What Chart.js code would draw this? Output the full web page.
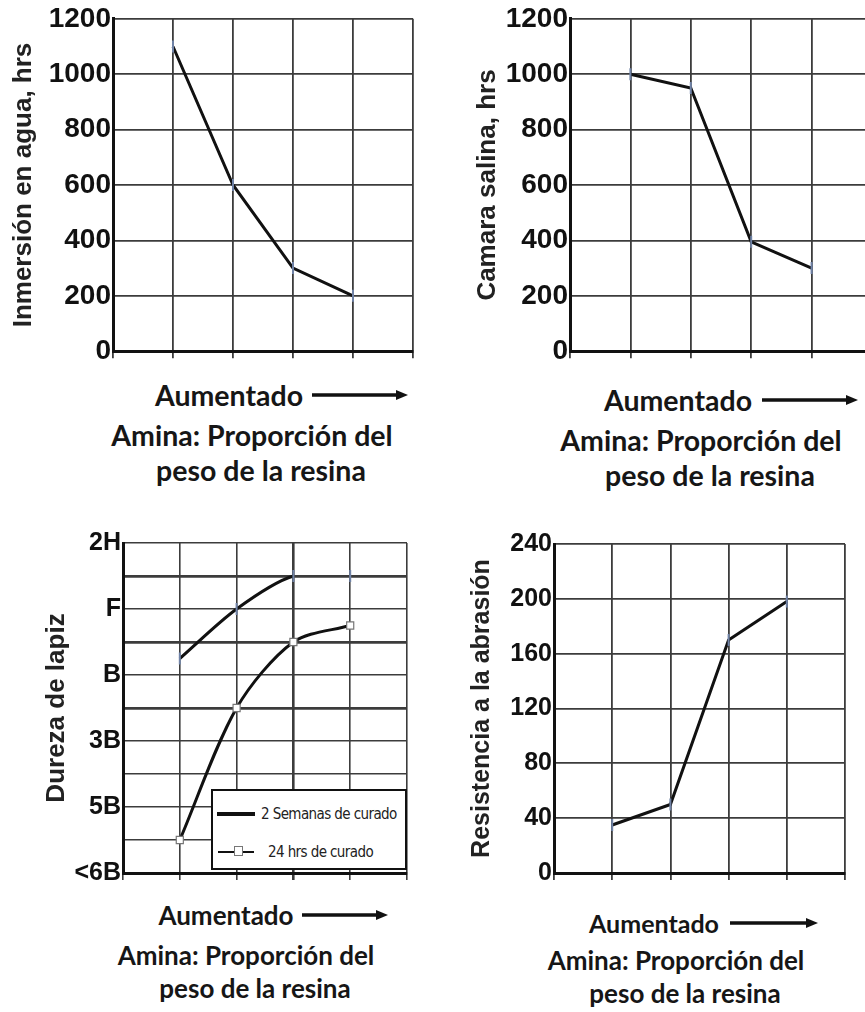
<!DOCTYPE html>
<html>
<head>
<meta charset="utf-8" />
<title>Amina: propiedades vs proporción</title>
<script src="https://cdn.jsdelivr.net/npm/chart.js@4.4.1/dist/chart.umd.min.js"></script>
<style>
	body { margin: 0; padding: 0; width: 865px; height: 1012px; overflow: hidden; background: #fff; position: relative; }
	canvas { position: absolute; }
	.cap { position: absolute; transform: translate(-50%, -50%); white-space: nowrap;
		font-family: 'Lato', 'Open Sans', sans-serif; font-weight: bold; color: #161616; line-height: 1; }
	.arrow { position: absolute; }
	#legend3 { position: absolute; left: 211px; top: 789px; width: 196px; height: 81px; box-sizing: border-box;
		border: 2px solid #111; background: #fff; font-family: 'DejaVu Sans Condensed', 'DejaVu Sans', sans-serif; font-size: 15px; color: #222; }
	#legend3 .ln { position: absolute; background: #111; }
	#legend3 .tx { position: absolute; transform: translateY(-50%); white-space: nowrap; letter-spacing: -0.6px; }
	#legend3 .mk { position: absolute; width: 7px; height: 8px; border: 1px solid #777; background: #fff; }
</style>
</head>
<body>

<canvas id="c1" width="430" height="370" style="left:0;top:0"></canvas>
<canvas id="c2" width="450" height="370" style="left:430px;top:0"></canvas>
<canvas id="c3" width="430" height="370" style="left:0;top:520px"></canvas>
<canvas id="c4" width="435" height="370" style="left:430px;top:520px"></canvas>

<div id="legend3">
	<div class="ln" style="left:4px;top:21px;width:38px;height:4px"></div>
	<div class="tx" id="lg1" style="left:48px;top:23px"></div>
	<div class="ln" style="left:5px;top:60px;width:36px;height:1.5px"></div>
	<div class="mk" style="left:21px;top:55px"></div>
	<div class="tx" id="lg2" style="left:55px;top:61px"></div>
</div>

<div id="caps"></div>

<script>
// amine proportion steps (unlabelled, increasing)
var aminaPasos = [1, 2, 3, 4];

var inmersionAgua = [1100, 600, 300, 200];
var camaraSalina = [1000, 950, 395, 300];
var durezaDosSemanas = [6.5, 8, 9, 9];
var durezaVeinticuatroHrs = [1, 5, 7, 7.5];
var resistenciaAbrasion = [35, 50, 170, 198];

var gradosLapiz = ['<6B', '6B', '5B', '4B', '3B', '2B', 'B', 'HB', 'F', 'H', '2H'];
var seriesDureza = ['2 Semanas de curado', '24 hrs de curado'];

var titulosY = ['Inmersión en agua, hrs', 'Camara salina, hrs', 'Dureza de lapiz', 'Resistencia a la abrasión'];
var leyendaX = ['Aumentado', 'Amina: Proporción del', 'peso de la resina'];

var GRID = '#3c3c3c';
var INK = '#111';
var MARK = '#6f82a6';

function pts(vals) {
	return vals.map(function (v, i) { return { x: aminaPasos[i], y: v }; });
}

function lineSet(vals, extra) {
	var d = {
		data: pts(vals),
		borderColor: INK,
		borderWidth: 3,
		tension: 0,
		pointStyle: 'line',
		rotation: 90,
		pointRadius: 6,
		pointBorderWidth: 2,
		pointBorderColor: MARK,
		fill: false
	};
	for (var k in extra) d[k] = extra[k];
	return d;
}

function makeChart(id, o) {
	return new Chart(document.getElementById(id), {
		type: 'line',
		data: { datasets: o.datasets },
		options: {
			responsive: false,
			animation: false,
			layout: { padding: { top: o.padTop, right: o.padRight, left: 0, bottom: 0 } },
			plugins: { legend: { display: false }, tooltip: { enabled: false } },
			scales: {
				x: {
					type: 'linear', min: 0, max: 5,
					ticks: { stepSize: 1, display: false },
					grid: { color: GRID, lineWidth: o.xGridWidth || 1.8, tickLength: 7 },
					border: { color: INK, width: 3 },
					afterFit: function (s) { s.height = o.xHeight; }
				},
				y: {
					min: o.min, max: o.max,
					ticks: {
						stepSize: o.step, color: INK, padding: 2,
						font: { family: 'Liberation Sans', weight: 'bold', size: o.tickSize },
						callback: o.tickCb || function (v) { return v; }
					},
					grid: { color: GRID, lineWidth: o.yGridWidth || 1.8, drawTicks: false },
					border: { color: INK, width: 3 },
					title: {
						display: true, text: o.title, color: '#222',
						font: { family: 'Liberation Sans', weight: 'bold', size: o.titleSize },
						padding: { top: o.titlePad, bottom: 0 }
					},
					afterFit: function (s) { s.width = o.yWidth; }
				}
			}
		}
	});
}

makeChart('c1', {
	datasets: [lineSet(inmersionAgua)],
	min: 0, max: 1200, step: 200, tickSize: 28,
	title: titulosY[0], titleSize: 26, titlePad: 8,
	yWidth: 113, xHeight: 18, padTop: 15, padRight: 17
});

makeChart('c2', {
	datasets: [lineSet(camaraSalina)],
	min: 0, max: 1200, step: 200, tickSize: 28,
	title: titulosY[1], titleSize: 26, titlePad: 42,
	yWidth: 140, xHeight: 18, padTop: 15, padRight: 8
});

makeChart('c3', {
	datasets: [
		lineSet(durezaDosSemanas, {
			label: seriesDureza[0], tension: 0.3,
			segment: { borderColor: function (ctx) { return ctx.p1DataIndex === 3 ? 'rgba(0,0,0,0)' : INK; } }
		}),
		lineSet(durezaVeinticuatroHrs, {
			label: seriesDureza[1], tension: 0.3,
			pointStyle: 'rect', rotation: 0, pointRadius: 5, pointBorderWidth: 1.2,
			pointBorderColor: '#777', pointBackgroundColor: '#fff'
		})
	],
	min: 0, max: 10, step: 1, tickSize: 25,
	tickCb: function (v) { return v % 2 === 0 ? gradosLapiz[v] : ''; },
	yGridWidth: function (c) { return [5, 7, 9].indexOf(c.tick && c.tick.value) > -1 ? 2.8 : 1.6; },
	xGridWidth: function (c) { return c.tick && c.tick.value === 3 ? 2.6 : 1.6; },
	title: titulosY[2], titleSize: 26, titlePad: 41,
	yWidth: 123, xHeight: 14, padTop: 23, padRight: 23
});

makeChart('c4', {
	datasets: [lineSet(resistenciaAbrasion)],
	min: 0, max: 240, step: 40, tickSize: 25,
	title: titulosY[3], titleSize: 25, titlePad: 37,
	yWidth: 124, xHeight: 13, padTop: 24, padRight: 20
});

document.getElementById('lg1').textContent = seriesDureza[0];
document.getElementById('lg2').textContent = seriesDureza[1];

// captions under each chart: [x centre, y centre, font size] per line, arrow from/to
var capLayout = [
	{ lines: [[229, 395, 28.5], [252, 435, 28.5], [261, 470, 28.5]], arrow: [312, 408, 395] },
	{ lines: [[678, 400, 28.5], [701, 440, 28.5], [710, 475, 28.5]], arrow: [762, 858, 400] },
	{ lines: [[226, 915, 26], [246, 955, 26], [255, 988, 26]], arrow: [302, 388, 915] },
	{ lines: [[654, 923, 25], [676, 960, 26], [685, 993, 26]], arrow: [730, 818, 923] }
];
var caps = document.getElementById('caps');
capLayout.forEach(function (c) {
	c.lines.forEach(function (l, i) {
		var s = document.createElement('div');
		s.className = 'cap';
		s.textContent = leyendaX[i];
		s.style.left = l[0] + 'px';
		s.style.top = l[1] + 'px';
		s.style.fontSize = l[2] + 'px';
		caps.appendChild(s);
	});
	var a = c.arrow, w = a[1] - a[0];
	var svg = '<svg class="arrow" width="' + w + '" height="12" style="left:' + a[0] + 'px;top:' + (a[2] - 6) + 'px">' +
		'<line x1="0" y1="6" x2="' + (w - 10) + '" y2="6" stroke="#111" stroke-width="3.5"/>' +
		'<polygon points="' + (w - 12) + ',1 ' + w + ',6 ' + (w - 12) + ',11" fill="#111"/></svg>';
	caps.insertAdjacentHTML('beforeend', svg);
});
</script>

</body>
</html>
